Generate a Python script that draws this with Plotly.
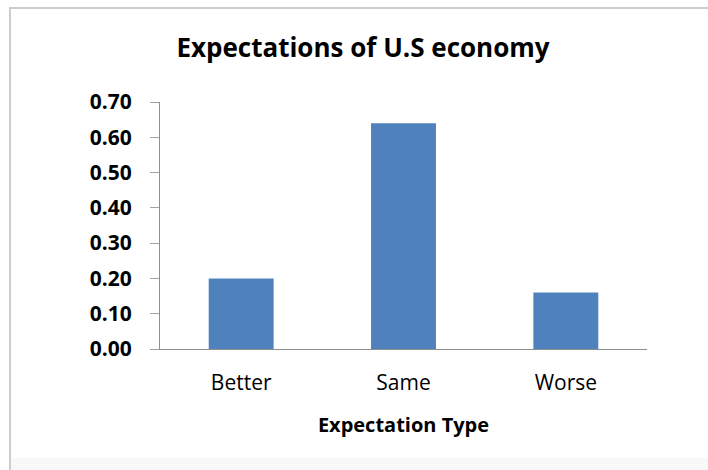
import plotly.graph_objects as go

# Survey results: share of respondents by expectation
categories = ["Better", "Same", "Worse"]
shares = [0.20, 0.64, 0.16]
y_ticks = [0.0, 0.1, 0.2, 0.3, 0.4, 0.5, 0.6, 0.7]

W, H = 708, 470
ML, MR, MT, MB = 160, 61, 102, 121
PW, PH = W - ML - MR, H - MT - MB


def px_x(x):
    return (x - ML) / PW


def px_y(y):
    return (H - MB - y) / PH


fig = go.Figure(
    go.Bar(
        x=categories,
        y=shares,
        width=0.4,
        marker=dict(color="#4F81BD", line=dict(width=0)),
    )
)

shapes = [
    # frame around the chart
    dict(type="line", xref="paper", yref="paper",
         x0=px_x(9), x1=px_x(W + 5), y0=px_y(8), y1=px_y(8),
         line=dict(color="#cdcdcd", width=2)),
    dict(type="line", xref="paper", yref="paper",
         x0=px_x(10), x1=px_x(10), y0=px_y(8), y1=px_y(H + 5),
         line=dict(color="#cdcdcd", width=2)),
    dict(type="rect", xref="paper", yref="paper",
         x0=px_x(11), x1=px_x(W + 5), y0=px_y(458), y1=px_y(H + 5),
         fillcolor="#f8f8f8", line=dict(width=0), layer="below"),
]

fig.update_layout(
    width=W,
    height=H,
    margin=dict(l=ML, r=MR, t=MT, b=MB, pad=0),
    paper_bgcolor="white",
    plot_bgcolor="white",
    showlegend=False,
    font=dict(family="Open Sans", color="black"),
    title=dict(
        text="<b>Expectations of U.S economy</b>",
        font=dict(size=26, family="Open Sans", color="black"),
        x=363 / W, xanchor="center",
        y=1 - 48 / H, yanchor="middle", yref="container",
    ),
    shapes=shapes,
    bargap=0.6,
)

fig.update_xaxes(
    showline=True, linecolor="#8f8f8f", linewidth=1,
    ticks="", showgrid=False, zeroline=False,
    tickfont=dict(size=21, family="Open Sans", color="black"),
    ticklabelstandoff=15,
    title=dict(text="<b>Expectation Type</b>",
               font=dict(size=20, family="Open Sans", color="black"),
               standoff=22),
)

fig.update_yaxes(
    range=[0, 0.7],
    tickvals=y_ticks,
    ticktext=[f"<b>{v:.2f}</b>" for v in y_ticks],
    showline=True, linecolor="#8f8f8f", linewidth=1,
    ticks="outside", ticklen=9, tickcolor="#a0a0a0", tickwidth=1,
    showgrid=False, zeroline=False,
    tickfont=dict(size=21, family="Open Sans", color="black"),
    ticklabelstandoff=14,
)

fig.write_html("out.html")
